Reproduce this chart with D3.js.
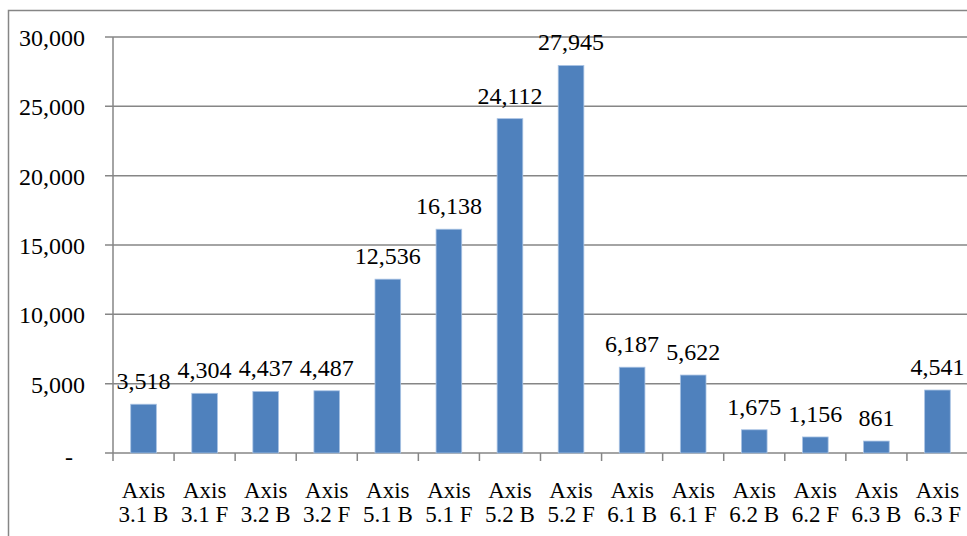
<!DOCTYPE html>
<html>
<head>
<meta charset="utf-8">
<script src="https://cdn.jsdelivr.net/npm/d3@7"></script>
<style>
  body { margin: 0; background: #fff; }
  text { font-family: "Liberation Serif", "Times New Roman", serif; fill: #000; }
</style>
</head>
<body>
<svg id="chart" width="967" height="536"></svg>
<script>
const categories = ['Axis 3.1 B', 'Axis 3.1 F', 'Axis 3.2 B', 'Axis 3.2 F', 'Axis 5.1 B', 'Axis 5.1 F', 'Axis 5.2 B',
  'Axis 5.2 F', 'Axis 6.1 B', 'Axis 6.1 F', 'Axis 6.2 B', 'Axis 6.2 F', 'Axis 6.3 B', 'Axis 6.3 F'];
const values = [3518, 4304, 4437, 4487, 12536, 16138, 24112, 27945, 6187, 5622, 1675, 1156, 861, 4541];
const yTicks = [0, 5000, 10000, 15000, 20000, 25000, 30000];

const svg = d3.select('#chart');
const gridColor = '#868686';
const fontSize = 24;
const plotLeft = 113, plotRight = 968, plotTop = 37, plotBottom = 453;

// chart frame
svg.append('rect')
  .attr('x', 8.5).attr('y', 10.5)
  .attr('width', 1000).attr('height', 600)
  .attr('fill', 'none').attr('stroke', gridColor).attr('stroke-width', 1.5);

const x = d3.scaleBand().domain(categories).range([plotLeft, plotRight]).paddingInner(0.58).paddingOuter(0.29);
const y = d3.scaleLinear().domain([0, 30000]).range([plotBottom, plotTop]);
const fmt = d3.format(',');

// gridlines + y ticks
svg.append('g').selectAll('line').data(yTicks).join('line')
  .attr('x1', plotLeft - 8).attr('x2', plotRight)
  .attr('y1', d => y(d)).attr('y2', d => y(d))
  .attr('stroke', gridColor).attr('stroke-width', 1.5);

svg.append('g').selectAll('text').data(yTicks).join('text')
  .attr('x', d => d === 0 ? 73 : 85)
  .attr('y', d => y(d) + (d === 0 ? 12 : 9))
  .attr('text-anchor', 'end')
  .attr('font-size', fontSize)
  .text(d => d === 0 ? '-' : fmt(d));

// y axis line
svg.append('line')
  .attr('x1', plotLeft).attr('x2', plotLeft).attr('y1', plotTop).attr('y2', plotBottom)
  .attr('stroke', gridColor).attr('stroke-width', 1.5);

// x category ticks
const step = x.step();
svg.append('g').selectAll('line').data(d3.range(categories.length + 1)).join('line')
  .attr('x1', i => plotLeft + i * step).attr('x2', i => plotLeft + i * step)
  .attr('y1', plotBottom).attr('y2', plotBottom + 8)
  .attr('stroke', gridColor).attr('stroke-width', 1.5);

// bars
svg.append('g').selectAll('rect').data(values).join('rect')
  .attr('x', (d, i) => x(categories[i]))
  .attr('y', d => y(d))
  .attr('width', x.bandwidth())
  .attr('height', d => y(0) - y(d))
  .attr('fill', '#4F81BD')
  .attr('stroke', '#a9c3e4').attr('stroke-width', 0.8);

// value labels
svg.append('g').selectAll('text').data(values).join('text')
  .attr('x', (d, i) => x(categories[i]) + x.bandwidth() / 2)
  .attr('y', d => y(d) - 15)
  .attr('text-anchor', 'middle')
  .attr('font-size', fontSize)
  .text(d => fmt(d));

// category labels, one text per line
const catCenter = d => x(d) + x.bandwidth() / 2;
svg.append('g').selectAll('text').data(categories).join('text')
  .attr('x', catCenter).attr('y', 498)
  .attr('text-anchor', 'middle')
  .attr('font-size', 23)
  .text(d => d.split(' ')[0]);
svg.append('g').selectAll('text').data(categories).join('text')
  .attr('x', catCenter).attr('y', 522)
  .attr('text-anchor', 'middle')
  .attr('font-size', 23)
  .text(d => d.split(' ').slice(1).join(' '));
</script>
</body>
</html>
